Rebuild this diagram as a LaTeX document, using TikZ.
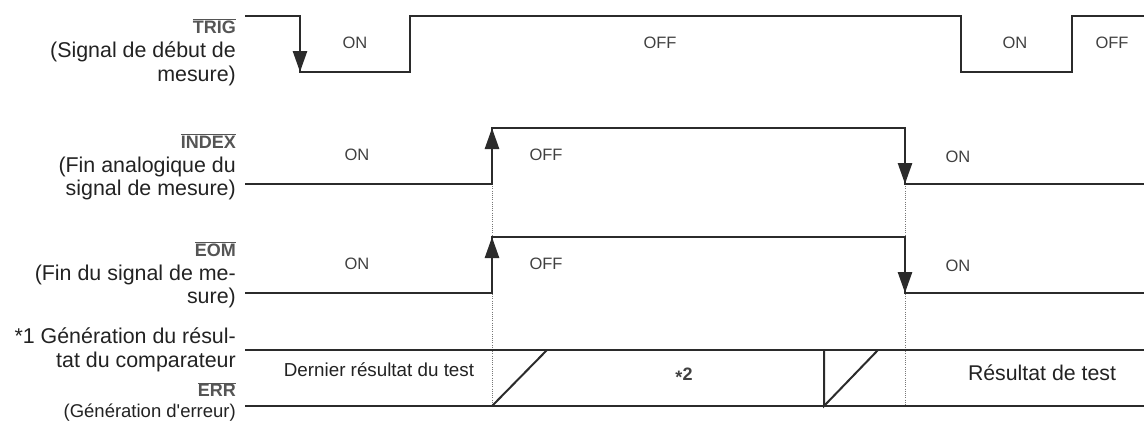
\documentclass[tikz,border=0pt]{standalone}
\usepackage{fontspec}
\setmainfont{Liberation Sans}
\usepackage{xcolor}
\usepackage{tikz}
\usetikzlibrary{arrows.meta,positioning}
\definecolor{waveink}{HTML}{2B2B2B}
\definecolor{textink}{HTML}{222222}
\definecolor{namegray}{HTML}{555555}
\definecolor{stategray}{HTML}{404040}
\definecolor{guidegray}{HTML}{777777}

\begin{document}
\begin{tikzpicture}[
  x=1pt,y=-1pt,
  sigdesc/.style={anchor=east,inner sep=0pt,align=right,text=textink,font={\fontsize{21.4}{23.5}\selectfont}},
  signame/.style={inner sep=0pt,text=namegray,font={\fontsize{18}{20}\selectfont\bfseries}},
  state/.style={inner sep=0pt,text=stategray,font={\fontsize{16.5}{19}\selectfont}},
  bustext/.style={inner sep=0pt,text=textink,font={\fontsize{18.8}{21}\selectfont}},
  wave/.style={draw=waveink,line width=2.4pt},
  edgearrow/.style={draw=waveink,line width=2.6pt,-{Triangle[length=21pt,width=14pt]}},
  bus/.style={draw=waveink,line width=2pt},
  guide/.style={draw=guidegray,line width=0.9pt,dash pattern=on 1pt off 1.2pt}
]
\useasboundingbox (0,0) rectangle (1144,421);

% signal names on the left
\node[sigdesc] (trigdesc) at (236,64) {(Signal de début de\\mesure)};
\node[signame,above=8pt of trigdesc.north east,anchor=south east] (trigname) {$\overline{\mbox{TRIG}}$};
\node[sigdesc] (indexdesc) at (236,178.5) {(Fin analogique du\\signal de mesure)};
\node[signame,above=8pt of indexdesc.north east,anchor=south east] (indexname) {$\overline{\mbox{INDEX}}$};
\node[sigdesc] (eomdesc) at (236,286.5) {(Fin du signal de me-\\sure)};
\node[signame,above=8pt of eomdesc.north east,anchor=south east] (eomname) {$\overline{\mbox{EOM}}$};
\node[sigdesc] (cmpdesc) at (236,350) {*1 Génération du résul-\\tat du comparateur};
\node[sigdesc,font={\fontsize{18.5}{21}\selectfont}] (errdesc) at (236,413) {(Génération d\textquotesingle erreur)};
\node[signame,above=7pt of errdesc.north east,anchor=south east] (errname) {$\overline{\mbox{ERR}}$};

% guide lines
\draw[guide] (492,184) -- (492,406);
\draw[guide] (905,184) -- (905,406);

% TRIG
\draw[wave] (245,16) -- (300,16) -- (300,72) -- (410,72) -- (410,16) -- (961,16) -- (961,72) -- (1072,72) -- (1072,16) -- (1144,16);
\draw[edgearrow] (300,30) -- (300,72);
\node[state] (trigon) at (355,43) {ON};
\node[state] (trigoff) at (660,43) {OFF};
\node[state] (trigonb) at (1015,43) {ON};
\node[state] (trigoffb) at (1112,43) {OFF};

% INDEX
\draw[wave] (245,184) -- (492,184) -- (492,128) -- (905,128) -- (905,184) -- (1144,184);
\draw[edgearrow] (492,170) -- (492,128);
\draw[edgearrow] (905,140) -- (905,184);
\node[state] (indexon) at (357,155) {ON};
\node[state] (indexoff) at (546,155) {OFF};
\node[state] (indexonb) at (958,157) {ON};

% EOM
\draw[wave] (245,293) -- (492,293) -- (492,237) -- (905,237) -- (905,293) -- (1144,293);
\draw[edgearrow] (492,280) -- (492,237);
\draw[edgearrow] (905,250) -- (905,293);
\node[state] (eomon) at (357,264) {ON};
\node[state] (eomoff) at (546,264) {OFF};
\node[state] (eomonb) at (958,266) {ON};

% comparator result / ERR
\draw[bus] (245,350) -- (1144,350);
\draw[bus] (245,406) -- (1144,406);
\draw[bus] (492,406) -- (547,350);
\draw[bus] (824,350) -- (824,406) -- (878,350);
\node[bustext] (oldres) at (379,370) {Dernier résultat du test};
\node[state,font={\fontsize{18}{20}\selectfont\bfseries}] (pending) at (684,376) {\raisebox{-0.35ex}{*}2};
\node[bustext,font={\fontsize{21.3}{23}\selectfont}] (newres) at (1042,373) {Résultat de test};
\end{tikzpicture}
\end{document}
